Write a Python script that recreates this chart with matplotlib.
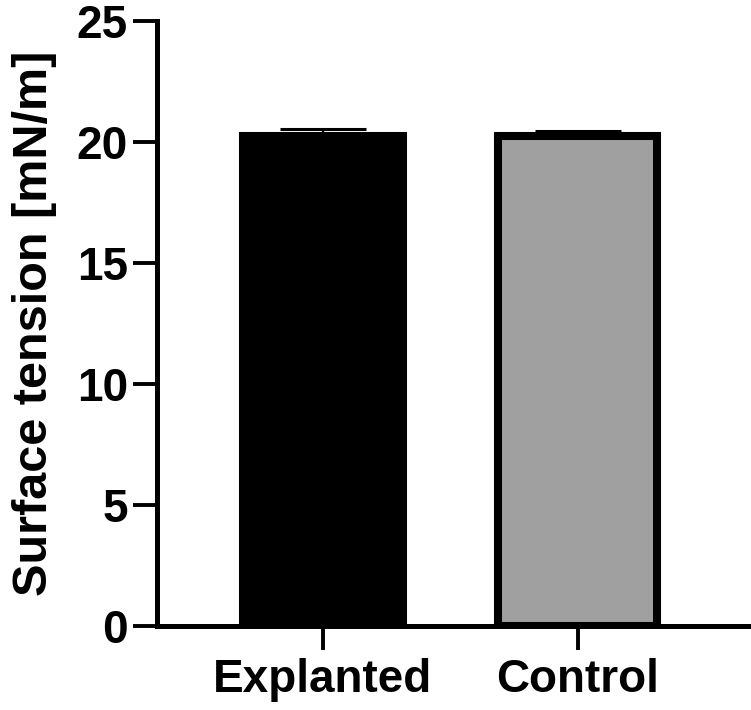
import matplotlib.pyplot as plt
import numpy as np

# Données
groups = ['Explanted', 'Control']
means = [20.25, 20.25]
sem = [0.28, 0.20]
colors = ['black', '#a0a0a0']

plt.rcParams['font.family'] = ['Liberation Sans', 'DejaVu Sans']
plt.rcParams['font.weight'] = 'bold'

fig = plt.figure(figsize=(7.51, 7.10), dpi=100)
ax = fig.add_axes([157/751, 84/710, 591/751, 605/710])

x = np.arange(len(groups))
ax.errorbar(x, means, yerr=[[0, 0], sem], fmt='none', ecolor='black',
            elinewidth=1.6, capsize=31, capthick=2.2, zorder=1)
ax.bar(x, means, width=0.624, color=colors, edgecolor='black',
       linewidth=5.8, zorder=2)

ax.set_xlim(-0.651, 1.667)
ax.set_ylim(0, 25)
ax.set_yticks([0, 5, 10, 15, 20, 25])
ax.set_xticks(x)
ax.set_xticklabels(groups, fontsize=33, fontweight='bold')
ax.tick_params(axis='y', labelsize=33, length=17, width=2.8, pad=4)
ax.tick_params(axis='x', length=17, width=2.8, pad=6)
for lab in ax.get_yticklabels():
    lab.set_fontweight('bold')

ax.set_ylabel('Surface tension [mN/m]', fontsize=35, fontweight='bold', labelpad=14)

for side in ['top', 'right']:
    ax.spines[side].set_visible(False)
for side in ['left', 'bottom']:
    ax.spines[side].set_linewidth(3.6)
    ax.spines[side].set_zorder(3)

fig.savefig('out.png', dpi=100)
